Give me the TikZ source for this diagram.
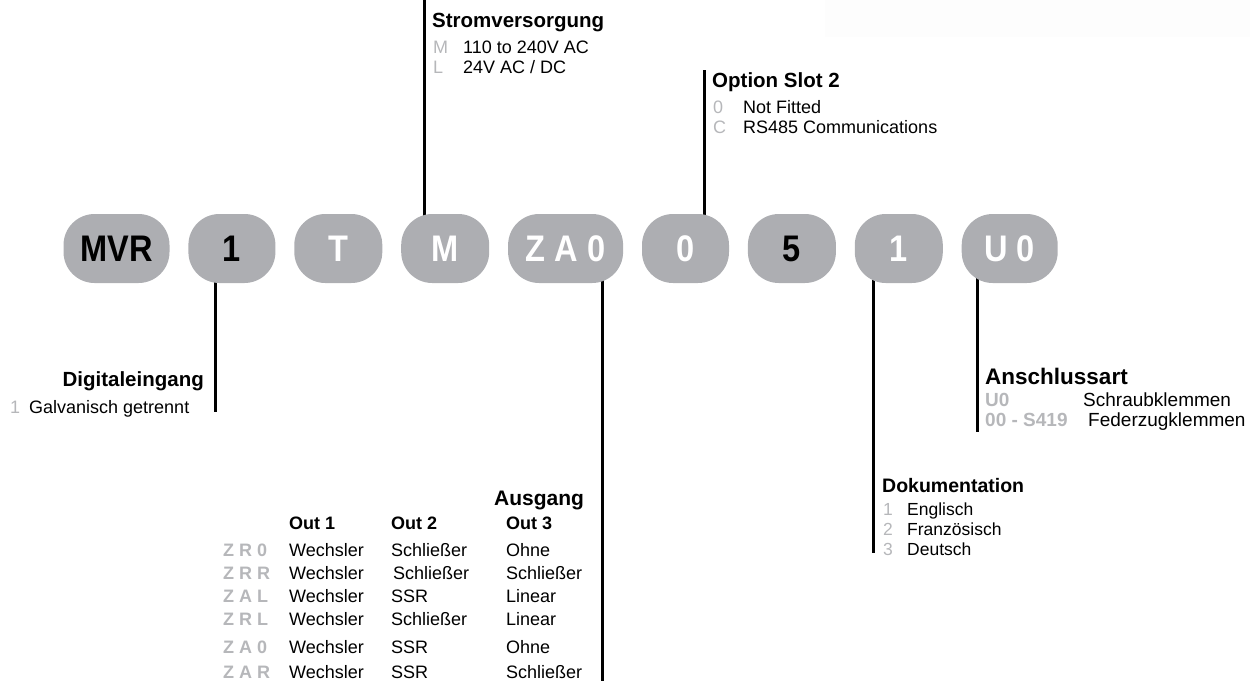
\documentclass[tikz,border=0pt]{standalone}
\usepackage{fontspec}
\setmainfont{Liberation Sans}
\usepackage{tikz}
\usetikzlibrary{positioning,backgrounds}
\definecolor{pillgray}{RGB}{173,174,178}
\definecolor{codegray}{RGB}{182,183,186}
\newcommand{\setfs}[1]{\fontsize{#1pt}{#1pt}\selectfont}
\newcommand{\ptx}[1]{\scalebox{0.88}[1]{#1}}
\tikzstyle{pill} = [fill=pillgray, rounded corners=31pt, minimum height=69pt, inner sep=0pt, text=white, font=\setfs{37}\bfseries]
\tikzstyle{leg} = [line width=3pt]
\tikzstyle{head} = [anchor=base west, inner sep=0pt, font=\setfs{20.5}\bfseries]
\tikzstyle{txt} = [anchor=base west, inner sep=0pt, font=\setfs{18}]
\tikzstyle{code} = [txt, text=codegray]
\tikzstyle{bcode} = [txt, text=codegray, font=\setfs{18}\bfseries]

\begin{document}
\begin{tikzpicture}[x=1pt, y=-1pt, node distance=18.5pt]
	\useasboundingbox (0,0) rectangle (1257,681);
	\fill[black!0.8] (825,0) rectangle (1250,37);
	
	% order code
	\node[pill, text=black, minimum width=106pt] (mvr) at (116.5,248.5) {\ptx{MVR}};
	\node[pill, text=black, minimum width=87pt, right=of mvr] (1dig) {\ptx{1}};
	\node[pill, minimum width=88pt, right=of 1dig] (2typ) {\ptx{T}};
	\node[pill, minimum width=88pt, right=of 2typ] (3strom) {\ptx{M}};
	\node[pill, minimum width=115pt, right=of 3strom] (4ausg) {\ptx{Z A 0}};
	\node[pill, minimum width=87pt, right=of 4ausg] (5opt) {\ptx{0}};
	\node[pill, text=black, minimum width=88pt, right=of 5opt] (6five) {\ptx{5}};
	\node[pill, minimum width=88pt, right=of 6five] (7doku) {\ptx{1}};
	\node[pill, minimum width=96pt, right=of 7doku] (8ansch) {\ptx{U 0}};
	
	% Stromversorgung
	\node[head] (strom) at (432,27) {Stromversorgung};
	\node[code] (stromM) at (433,53) {M};
	\node[txt] (stromMtxt) at (463,53) {110 to 240V AC};
	\node[code] (stromL) at (433,73) {L};
	\node[txt] (stromLtxt) at (463,73) {24V AC / DC};
	
	% Option Slot 2
	\node[head] (opt) at (712,87) {Option Slot 2};
	\node[code] (opt0) at (713,113) {0};
	\node[txt] (opt0txt) at (743,113) {Not Fitted};
	\node[code] (optC) at (713,133) {C};
	\node[txt] (optCtxt) at (743,133) {RS485 Communications};
	
	% Digitaleingang
	\node[head, anchor=base east] (dig) at (204,386) {Digitaleingang};
	\node[code] (dig1) at (10,413) {1};
	\node[txt] (dig1txt) at (29,413) {Galvanisch getrennt};
	
	% Ausgang
	\node[head, font=\setfs{21}\bfseries] (ausg) at (494,505) {Ausgang};
	\node[txt, font=\setfs{18}\bfseries] (out1) at (289,529) {Out 1};
	\node[txt, font=\setfs{18}\bfseries] (out2) at (391,529) {Out 2};
	\node[txt, font=\setfs{18}\bfseries] (out3) at (506,529) {Out 3};
	
	\node[bcode] (zr0) at (223,556) {Z R 0};
	\node[txt] at (289,556) {Wechsler};
	\node[txt] at (391,556) {Schließer};
	\node[txt] at (506,556) {Ohne};
	
	\node[bcode] (zrr) at (223,579) {Z R R};
	\node[txt] at (289,579) {Wechsler};
	\node[txt] at (393,579) {Schließer};
	\node[txt] at (506,579) {Schließer};
	
	\node[bcode] (zal) at (223,602) {Z A L};
	\node[txt] at (289,602) {Wechsler};
	\node[txt] at (391,602) {SSR};
	\node[txt] at (506,602) {Linear};
	
	\node[bcode] (zrl) at (223,625) {Z R L};
	\node[txt] at (289,625) {Wechsler};
	\node[txt] at (391,625) {Schließer};
	\node[txt] at (506,625) {Linear};
	
	\node[bcode] (za0) at (223,653) {Z A 0};
	\node[txt] at (289,653) {Wechsler};
	\node[txt] at (391,653) {SSR};
	\node[txt] at (506,653) {Ohne};
	
	\node[bcode] (zar) at (223,678) {Z A R};
	\node[txt] at (289,678) {Wechsler};
	\node[txt] at (391,678) {SSR};
	\node[txt] at (506,678) {Schließer};
	
	% Dokumentation
	\node[head, font=\setfs{19.5}\bfseries] (doku) at (882,492) {Dokumentation};
	\node[code, font=\setfs{17.5}] (doku1) at (883,515) {1};
	\node[txt, font=\setfs{17.5}] at (907,515) {Englisch};
	\node[code, font=\setfs{17.5}] (doku2) at (883,535) {2};
	\node[txt, font=\setfs{17.5}] at (907,535) {Französisch};
	\node[code, font=\setfs{17.5}] (doku3) at (883,555) {3};
	\node[txt, font=\setfs{17.5}] at (907,555) {Deutsch};
	
	% Anschlussart
	\node[head, font=\setfs{22.5}\bfseries] (ansch) at (985,384) {Anschlussart};
	\node[bcode, font=\setfs{19}\bfseries] (anschU0) at (985,406) {U0};
	\node[txt, font=\setfs{19}] at (1083,406) {Schraubklemmen};
	\node[bcode, font=\setfs{19}\bfseries] (anschS) at (985,426) {00 - S419};
	\node[txt, font=\setfs{19}] at (1088,426) {Federzugklemmen};
	
	% leader lines
	\begin{pgfonlayer}{background}
		\coordinate (stromtop) at (424,0);
		\coordinate (opttop) at (704,70);
		\coordinate (digend) at (215,412);
		\coordinate (ausgend) at (602,681);
		\coordinate (dokuend) at (873,553);
		\coordinate (anschend) at (977,432);
		\draw[leg] (stromtop) -- (stromtop |- 3strom.center);
		\draw[leg] (opttop) -- (opttop |- 5opt.center);
		\draw[leg] (digend |- 1dig.center) -- (digend);
		\draw[leg] (ausgend |- 4ausg.center) -- (ausgend);
		\draw[leg] (dokuend |- 7doku.center) -- (dokuend);
		\draw[leg] (anschend |- 8ansch.center) -- (anschend);
	\end{pgfonlayer}
\end{tikzpicture}
\end{document}
